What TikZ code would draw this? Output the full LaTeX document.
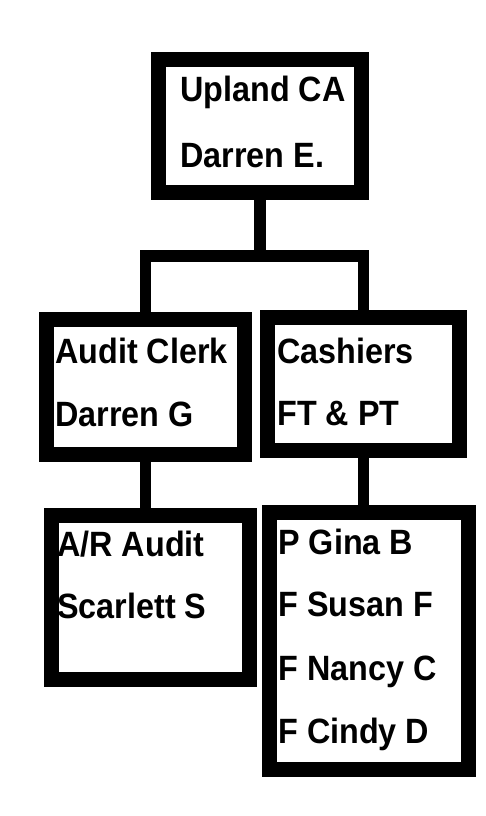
\documentclass[tikz,border=0pt]{standalone}
\usepackage{fontspec}
\newfontfamily\chartfont{Liberation Sans}[FakeStretch=0.92]
\usepackage{xcolor}
\definecolor{cInk}{HTML}{000000}
\usepackage{tikz}
\usetikzlibrary{positioning,calc}
\tikzset{
  org-box/.style={draw=cInk,line width=8.5pt,rectangle,inner sep=0pt},
  org-text/.style={anchor=base west,inner sep=0pt,text=cInk,
    font=\chartfont\bfseries\fontsize{20}{22}\selectfont},
  org-link/.style={draw=cInk,line width=6.8pt,line join=miter},
}

\begin{document}
\begin{tikzpicture}[x=0.02cm,y=-0.02cm]
  \useasboundingbox (0,0) rectangle (485,816);
  % boxes
  \node[org-box,minimum width=4.06cm,minimum height=2.66cm] (top) at (260,126) {};
  \node[org-box,minimum width=3.96cm,minimum height=2.70cm] (ml) at (145.5,387) {};
  \node[org-box,minimum width=3.84cm,minimum height=2.66cm] (mr) at (363.5,384) {};
  \node[org-box,minimum width=3.96cm,minimum height=3.28cm] (bl) at (150.5,597.5) {};
  \node[org-box,minimum width=3.98cm,minimum height=5.14cm] (br) at (369,641) {};
  % texts
  \node[org-text] (top-1) at (180,101) {Upland CA};
  \node[org-text] (top-2) at (180,167) {Darren E.};
  \node[org-text] (ml-1) at (55,363) {Audit Clerk};
  \node[org-text] (ml-2) at (55,426) {Darren G};
  \node[org-text] (mr-1) at (277,363) {Cashiers};
  \node[org-text] (mr-2) at (277,425) {FT \& PT};
  \node[org-text] (bl-1) at (57,556) {A/R Audit};
  \node[org-text] (bl-2) at (57,618) {Scarlett S};
  \node[org-text] (br-1) at (278,554) {P Gina B};
  \node[org-text] (br-2) at (278,616) {F Susan F};
  \node[org-text] (br-3) at (278,680) {F Nancy C};
  \node[org-text] (br-4) at (278,743) {F Cindy D};
  % connectors
  \coordinate (brk) at (260,256);
  \draw[org-link] (top.south) -- (brk);
  \draw[org-link] (ml.north) |- (brk) -| (mr.north);
  \draw[org-link] (ml.south) -- (ml.south |- bl.north);
  \draw[org-link] (mr.south) -- (mr.south |- br.north);
\end{tikzpicture}
\end{document}
